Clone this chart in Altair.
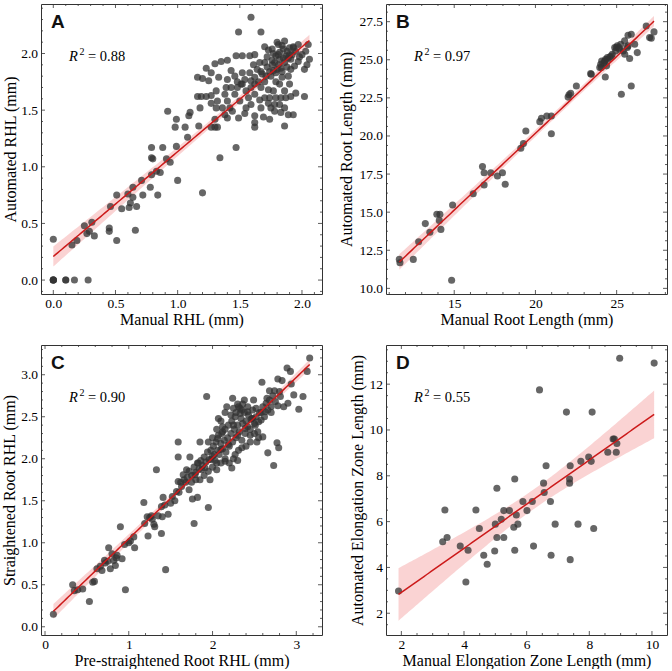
import altair as alt
import numpy as np
import pandas as pd

# ---------------- data ----------------
A_MANUAL = [0.00, 0.00, 0.00, 0.00, 0.00, 0.10, 0.10, 0.17, 0.28, 0.15, 0.19, 0.25, 0.27, 0.31, 0.29,
            0.33, 0.45, 0.45,
            0.46, 0.51, 0.51, 0.55, 0.60, 0.61, 0.62, 0.64, 0.66, 0.67, 0.64, 0.71, 0.72, 0.78, 0.79,
            0.79, 0.79, 0.80, 0.83, 0.84, 0.86, 0.88, 0.91, 0.92, 0.94, 0.99, 0.99, 1.00, 0.98, 1.06,
            1.08, 1.09, 1.10, 1.16, 1.17, 1.16, 1.20, 1.18,
            1.59, 1.49, 1.67, 1.35, 1.30, 1.23, 1.20, 1.27, 1.40, 1.43, 1.47, 1.52, 1.58, 1.62, 1.61,
            1.66, 1.52, 1.58, 1.46, 1.40, 1.33, 1.25, 1.19, 1.23, 1.27, 1.31, 1.32, 1.38, 1.40, 1.42,
            1.44, 1.31, 1.27, 1.36, 1.38, 1.40, 1.32, 1.27, 1.30, 1.48, 1.52, 1.55, 1.57, 1.50, 1.46,
            1.59, 1.62, 1.65, 1.67, 1.70, 1.71, 1.74, 1.77, 1.79, 1.81, 1.78, 1.83, 1.86, 1.84, 1.82,
            1.79, 1.89, 1.91, 1.94, 1.97, 2.02, 2.04, 1.90, 1.86, 1.83, 1.87, 1.91, 1.95, 2.02, 2.06,
            2.05, 1.67, 1.62, 1.66, 1.70, 1.67, 1.73, 1.75, 1.78, 1.83, 1.86, 1.89, 1.93, 1.86, 1.74,
            1.69, 1.62, 1.54, 1.59, 1.55, 1.62, 1.62, 1.49, 1.47, 1.34, 1.30, 1.51, 1.70, 1.73, 1.81,
            1.77, 1.82, 1.85, 1.89, 1.91, 1.72, 1.62, 1.59, 1.54, 1.48, 1.43, 1.39, 1.73, 1.77, 1.79,
            1.74, 1.82, 1.78,
            1.68, 1.72, 1.75, 1.76, 1.80, 1.82, 1.84, 1.87, 1.88, 1.92, 1.95, 1.98, 1.64, 1.70, 1.79,
            1.85, 1.90, 1.76, 1.81, 1.93,
            1.76, 1.80, 1.84, 1.88, 1.93, 1.97, 2.00, 2.03, 1.86, 1.90]
A_AUTO = [0.36, 0.00, 0.00, 0.00, 0.00, 0.00, 0.00, 0.00, 0.00, 0.31, 0.35, 0.48, 0.41, 0.51, 0.43,
          0.39, 0.46, 0.43,
          0.65, 0.35, 0.75, 0.63, 0.76, 0.64, 0.68, 0.73, 0.44, 0.65, 0.82, 0.88, 0.75, 0.82, 0.93,
          1.08, 1.17, 1.07, 0.96, 0.75, 0.95, 1.17, 1.07, 1.49, 1.04, 1.18, 1.42, 0.88, 1.35, 1.35,
          1.26, 1.45, 1.48, 1.79, 1.36, 1.62, 0.77, 1.52,
          2.32, 2.19, 2.19, 1.93, 1.91, 1.87, 1.78, 1.83, 1.94, 1.85, 1.98, 1.98, 1.98, 1.99, 1.90,
          1.92, 1.83, 1.83, 1.80, 1.77, 1.79, 1.76, 1.62, 1.62, 1.63, 1.67, 1.58, 1.64, 1.58, 1.52,
          1.49, 1.52, 1.56, 1.52, 1.46, 1.43, 1.35, 1.35, 1.42, 1.70, 1.73, 1.67, 1.61, 1.58, 1.64,
          1.70, 1.73, 1.75, 1.70, 1.75, 1.80, 1.84, 1.85, 1.83, 1.90, 1.92, 1.87, 1.92, 1.79, 1.73,
          1.75, 1.80, 1.86, 1.89, 1.93, 1.86, 1.90, 1.73, 1.67, 1.61, 1.61, 1.62, 1.65, 1.62, 1.95,
          2.08, 1.84, 1.64, 1.59, 1.61, 1.52, 1.56, 1.52, 1.49, 1.48, 1.52, 1.46, 1.46, 1.36, 1.42,
          1.44, 1.45, 1.47, 1.55, 1.52, 1.35, 1.39, 1.43, 1.17, 1.08, 1.35, 1.73, 2.06, 2.03, 2.08,
          2.00, 2.01, 1.96, 1.96, 1.95, 1.97, 1.79, 1.76, 1.77, 1.75, 1.70, 1.70, 1.68, 1.67, 1.61,
          1.61, 1.55, 1.55,
          1.82, 1.88, 1.80, 1.90, 1.86, 1.95, 1.84, 1.98, 1.88, 1.99, 2.02, 1.97, 1.86, 1.92, 1.98,
          2.04, 2.05, 1.94, 1.99, 2.06,
          2.04, 2.10, 2.07, 2.02, 2.05, 2.08, 1.99, 2.02, 2.11, 1.99]

B_MANUAL = [11.62, 11.66, 12.48, 12.81, 13.22, 13.50, 13.93, 14.08, 14.12, 14.18, 14.90, 14.84,
            16.17, 16.74, 16.84, 16.84, 17.25, 17.66, 17.97, 18.14, 19.10, 19.26, 19.41, 20.27,
            20.37, 20.70, 20.98, 20.98, 22.01, 22.07, 22.17, 22.52, 23.40, 23.44, 23.96, 24.02,
            24.06, 24.08, 24.22, 24.26, 24.30, 24.32, 24.38, 24.43, 24.47, 24.59, 24.67, 24.73,
            24.88, 24.94, 24.98, 25.04, 25.14, 25.18, 25.25, 25.29, 25.41, 25.49, 25.50, 25.66,
            25.70, 25.70, 25.80, 25.90, 25.90, 26.11, 26.27, 26.82, 27.03, 27.13, 27.30]
B_AUTO = [11.90, 11.68, 11.90, 13.06, 14.25, 13.68, 14.86, 14.46, 14.86, 13.87, 15.47, 10.53,
          16.21, 17.99, 17.59, 16.78, 17.59, 17.37, 17.59, 16.83, 19.19, 19.50, 20.33, 20.94,
          21.16, 21.31, 21.31, 20.15, 22.55, 22.70, 22.80, 23.28, 24.09, 24.05, 24.49, 24.71,
          24.49, 24.92, 24.81, 24.92, 23.87, 25.03, 24.60, 25.14, 25.03, 25.19, 25.25, 25.36,
          25.80, 25.58, 25.80, 25.91, 25.80, 25.69, 26.02, 22.74, 25.58, 26.24, 25.36, 25.80,
          26.61, 25.91, 25.08, 26.67, 23.28, 26.02, 25.47, 27.22, 26.46, 26.42, 26.83]

C_PRE = [0.10, 0.33, 0.35, 0.39, 0.45, 0.53, 0.57, 0.59, 0.62, 0.68, 0.71, 0.75, 0.76, 0.80, 0.78,
         0.82, 0.84, 0.86, 0.90, 0.92, 0.96, 1.02, 1.06, 1.07, 1.18, 1.19, 1.22, 1.23, 1.27, 1.28,
         1.31, 1.33, 1.35, 1.39, 1.39, 1.40, 1.41, 1.43, 1.44, 1.47, 1.55, 1.57, 1.59, 1.59, 1.59,
         1.63, 1.65, 1.69, 1.73, 1.72, 1.76, 1.78, 1.79, 1.82, 1.83, 1.85, 1.87, 1.91, 1.93, 1.95,
         1.97, 1.98, 2.02, 2.05, 2.07, 2.06, 2.10, 2.12, 2.15, 2.17, 2.19, 2.23, 2.24, 2.25, 2.27,
         2.30, 2.31, 2.33, 2.35, 2.38, 2.39, 2.42, 2.45, 2.47, 2.49, 2.51, 2.53, 2.55, 2.59, 2.60,
         2.63, 2.66, 2.65, 2.68, 2.70, 2.73, 2.74, 2.77, 2.79, 2.78, 2.81, 2.83, 2.85, 2.89, 2.90,
         2.93, 2.94, 2.97, 3.03, 3.08, 3.13, 3.16,
         1.70, 1.72, 1.75, 1.78, 1.80, 1.82, 1.84, 1.86, 1.88, 1.90, 1.92, 1.94, 1.96, 1.98, 2.00,
         2.01, 2.03, 2.04, 2.06, 2.07, 2.08, 2.10, 2.11, 2.12, 2.14, 2.15, 2.16, 2.18, 2.19, 2.20,
         2.22, 2.23, 2.24, 2.26, 2.27, 2.28, 2.30, 2.31, 2.32, 2.34, 2.35, 2.36, 2.38, 2.39, 2.40,
         2.42, 2.43, 2.45, 2.46, 2.48, 2.50, 2.52, 2.54, 2.56, 2.58, 2.60, 2.62, 2.64, 2.66, 2.68,
         2.70, 2.72, 2.75, 2.78, 2.80,
         2.00, 2.05, 2.10, 2.15, 1.95, 2.25, 2.30, 2.35, 2.20, 2.25, 2.30, 2.40, 2.45, 2.50, 2.55,
         1.85, 1.90, 1.95, 2.00, 2.05, 2.10, 1.80, 1.75, 1.68, 2.15, 2.12, 2.22, 2.28, 2.33, 2.36,
         2.42, 2.48, 2.52, 2.58, 1.50, 1.52, 1.60, 1.62, 1.66, 1.25, 1.30, 1.00, 0.95, 0.85, 0.72,
         0.66]
C_STRAIGHT = [0.15, 0.50, 0.43, 0.44, 0.45, 0.30, 0.53, 0.54, 0.69, 0.67, 0.79, 0.78, 0.94, 0.87, 0.69,
              0.79, 0.73, 0.85, 1.19, 0.81, 0.44, 1.02, 1.07, 0.94, 1.48, 1.23, 1.31, 1.08, 1.32, 1.28,
              1.19, 1.87, 1.32, 1.43, 1.11, 1.31, 1.54, 1.45, 0.68, 1.34, 1.50, 1.61, 2.20, 2.02, 1.73,
              1.67, 1.81, 1.87, 2.02, 1.63, 1.52, 1.23, 1.81, 1.54, 1.95, 2.20, 1.87, 1.89, 2.74, 1.42,
              1.75, 1.99, 2.05, 1.87, 2.48, 2.24, 2.11, 2.32, 1.97, 2.62, 2.17, 1.89, 2.72, 2.40, 2.05,
              2.28, 2.62, 2.54, 2.13, 2.70, 2.36, 2.56, 2.28, 2.48, 2.70, 2.40, 2.20, 2.44, 2.91, 2.26,
              2.56, 2.07, 2.72, 2.81, 2.62, 1.92, 2.81, 2.19, 2.13, 2.95, 2.74, 2.93, 2.62, 3.08, 2.66,
              3.04, 2.89, 2.76, 2.59, 2.74, 3.04, 3.20,
              1.78, 1.85, 1.80, 1.90, 1.84, 1.95, 1.88, 1.98, 1.92, 2.02, 1.96, 2.08, 1.99, 2.10, 2.03,
              2.15, 1.98, 2.20, 2.10, 2.28, 2.05, 2.18, 2.30, 2.12, 2.22, 2.35, 2.08, 2.25, 2.40, 2.15,
              2.30, 2.45, 2.20, 2.35, 2.50, 2.25, 2.40, 2.10, 2.32, 2.48, 2.22, 2.42, 2.55, 2.30, 2.45,
              2.38, 2.52, 2.35, 2.47, 2.58, 2.42, 2.50, 2.32, 2.55, 2.46, 2.62, 2.50, 2.66, 2.58, 2.70,
              2.55, 2.75, 2.68, 2.63, 2.80,
              2.25, 2.35, 2.45, 2.55, 2.20, 2.60, 2.65, 2.58, 1.95, 2.00, 1.98, 2.15, 2.20, 2.30, 2.25,
              1.75, 1.80, 1.85, 1.90, 1.95, 1.95, 1.75, 1.72, 1.72, 2.00, 2.38, 2.52, 2.55, 2.60, 2.65,
              2.62, 2.48, 2.60, 2.55, 1.47, 1.55, 1.60, 1.72, 1.75, 1.30, 1.22, 1.00, 0.98, 0.82, 0.76,
              0.72]

D_MANUAL = [1.91, 3.32, 3.39, 3.46, 3.88, 4.06, 4.13, 4.38, 4.49, 4.63, 4.74, 4.98, 5.00, 5.05,
            5.05, 5.19, 5.27, 5.27, 5.45, 5.59, 5.62, 5.62, 5.67, 5.72, 5.88, 6.01, 6.18, 6.22,
            6.41, 6.54, 6.56, 6.62, 6.76, 6.78, 6.91, 7.27, 7.37, 7.37, 7.39, 7.39, 7.64, 7.73,
            7.98, 8.06, 8.09, 8.14, 8.59, 8.76, 8.80, 8.86, 8.88, 8.97, 10.07]
D_AUTO = [2.97, 5.12, 6.51, 5.31, 4.93, 3.36, 4.75, 6.51, 5.70, 4.53, 4.14, 4.72, 5.89, 7.46,
          5.31, 6.10, 6.48, 5.31, 6.48, 5.75, 7.86, 4.75, 6.29, 5.89, 6.88, 6.48, 6.88, 4.93,
          11.75, 7.68, 7.27, 8.44, 6.88, 4.53, 5.89, 10.78, 7.86, 7.68, 8.44, 4.34, 5.89, 8.63,
          8.82, 8.63, 10.78, 5.70, 9.03, 9.61, 9.61, 9.03, 9.41, 13.13, 12.92]

R2_TEXT = ["0.88", "0.97", "0.90", "0.55"]
LETTERS = ["A", "B", "C", "D"]

W, H = 281, 290
SERIF = "Liberation Serif"
POINT_COLOR = "#333333"
LINE_COLOR = "#cc1a1a"
BAND_COLOR = "#f08080"
LABEL_SIZE = 13.5
TITLE_SIZE = 16


def fit_band(x, y):
    x = np.asarray(x, float)
    y = np.asarray(y, float)
    n = len(x)
    b, a = np.polyfit(x, y, 1)
    resid = y - (a + b * x)
    dof = n - 2
    s = np.sqrt(np.sum(resid ** 2) / dof)
    xbar = x.mean()
    sxx = np.sum((x - xbar) ** 2)
    t = 1.96 + 2.37 / dof
    xs = np.linspace(x.min(), x.max(), 120)
    fit = a + b * xs
    se = s * np.sqrt(1.0 / n + (xs - xbar) ** 2 / sxx)
    return pd.DataFrame({"x": xs, "fit": fit, "lo": fit - t * se, "hi": fit + t * se})


def minor_values(dom, step):
    start = np.ceil(dom[0] / step) * step
    vals = np.arange(start, dom[1] + 1e-9, step)
    return [round(float(v), 6) for v in vals]


def panel(xv, yv, letter, r2, xdom, ydom, xmajor, ymajor, xminor_step, yminor_step,
          xfmt, yfmt, xtitle, ytitle, ytitle_x, xtitle_y):
    df = pd.DataFrame({"x": xv, "y": yv})
    band = fit_band(xv, yv)
    xs = alt.Scale(domain=xdom, nice=False, zero=False)
    ys = alt.Scale(domain=ydom, nice=False, zero=False)

    xaxis = alt.Axis(values=xmajor, format=xfmt, ticks=False, domain=False, grid=False,
                     labelFont=SERIF, labelFontSize=LABEL_SIZE, labelColor="black", labelPadding=2,
                     labelFlush=False, labelOverlap=False,
                     title=xtitle, titleFont=SERIF, titleFontSize=TITLE_SIZE, titleFontWeight="normal",
                     titleColor="black", titleY=xtitle_y, titleBaseline="alphabetic")
    yaxis = alt.Axis(values=ymajor, format=yfmt, ticks=False, domain=False, grid=False,
                     labelFont=SERIF, labelFontSize=LABEL_SIZE, labelColor="black", labelPadding=3.5,
                     labelFlush=False, labelOverlap=False,
                     title=ytitle, titleFont=SERIF, titleFontSize=TITLE_SIZE, titleFontWeight="normal",
                     titleColor="black", titleX=ytitle_x, titleBaseline="alphabetic",
                     titleAngle=270)

    def X(field):
        return alt.X(field, scale=xs, axis=xaxis, title=xtitle)

    def Y(field):
        return alt.Y(field, scale=ys, axis=yaxis, title=ytitle)

    area = alt.Chart(band).mark_area(color=BAND_COLOR, opacity=0.35, clip=True).encode(
        x=X("x:Q"), y=Y("lo:Q"), y2="hi:Q",
    )
    pts = alt.Chart(df).mark_circle(size=50, color=POINT_COLOR, opacity=0.75, clip=True).encode(
        x=X("x:Q"), y=Y("y:Q"),
    )
    line = alt.Chart(band).mark_line(color=LINE_COLOR, strokeWidth=1.5, clip=True).encode(
        x=X("x:Q"), y=Y("fit:Q"),
    )

    layers = [area, pts, line]

    # inward ticks on all four sides
    xmaj = [v for v in xmajor if xdom[0] <= v <= xdom[1]]
    ymaj = [v for v in ymajor if ydom[0] <= v <= ydom[1]]
    xmin = [v for v in minor_values(xdom, xminor_step) if all(abs(v - m) > 1e-6 for m in xmaj)]
    ymin = [v for v in minor_values(ydom, yminor_step) if all(abs(v - m) > 1e-6 for m in ymaj)]
    for vals, ln in ((xmaj, 4), (xmin, 2)):
        tdf = pd.DataFrame({"v": vals})
        for y0, y1 in ((H, H - ln), (0, ln)):
            layers.append(alt.Chart(tdf).mark_rule(color="#333333", strokeWidth=0.8).encode(
                x=X("v:Q"), y=alt.value(y0), y2=alt.value(y1)))
    for vals, ln in ((ymaj, 4), (ymin, 2)):
        tdf = pd.DataFrame({"v": vals})
        for x0, x1 in ((0, ln), (W, W - ln)):
            layers.append(alt.Chart(tdf).mark_rule(color="#333333", strokeWidth=0.8).encode(
                y=Y("v:Q"), x=alt.value(x0), x2=alt.value(x1)))

    one = pd.DataFrame({"k": [0]})
    layers.append(alt.Chart(one).mark_text(text=letter, font="Liberation Sans", fontWeight="bold",
                                            fontSize=19, align="left", baseline="alphabetic",
                                            color="#111111").encode(
        x=alt.value(10), y=alt.value(24)))
    layers.append(alt.Chart(one).mark_text(text="R", font=SERIF, fontStyle="italic", fontSize=14.5,
                                            align="left", baseline="alphabetic", color="black").encode(
        x=alt.value(28), y=alt.value(57)))
    layers.append(alt.Chart(one).mark_text(text="2", font=SERIF, fontSize=10,
                                            align="left", baseline="alphabetic", color="black").encode(
        x=alt.value(38.5), y=alt.value(51)))
    layers.append(alt.Chart(one).mark_text(text="= " + r2, font=SERIF, fontSize=14.5,
                                            align="left", baseline="alphabetic", color="black").encode(
        x=alt.value(47), y=alt.value(57)))

    return alt.layer(*layers).properties(width=W, height=H)


pA = panel(A_MANUAL, A_AUTO, LETTERS[0], R2_TEXT[0], [-0.099, 2.161], [-0.123, 2.437],
           [0, 0.5, 1.0, 1.5, 2.0], [0, 0.5, 1.0, 1.5, 2.0], 0.1, 0.1, ".1f", ".1f",
           "Manual RHL (mm)", "Automated RHL (mm)", -26, 30)
pB = panel(B_MANUAL, B_AUTO, LETTERS[1], R2_TEXT[1], [10.8, 28.1], [9.63, 28.66],
           [15, 20, 25], [10, 12.5, 15, 17.5, 20, 22.5, 25, 27.5], 1.0, 0.625, "d", ".1f",
           "Manual Root Length (mm)", "Automated Root Length (mm)", -35, 30)
pC = panel(C_PRE, C_STRAIGHT, LETTERS[2], R2_TEXT[2], [-0.048, 3.307], [-0.098, 3.354],
           [0, 1, 2, 3], [0, 0.5, 1.0, 1.5, 2.0, 2.5, 3.0], 0.2, 0.1, "d", ".1f",
           "Pre-straightened Root RHL (mm)", "Straightened Root RHL (mm)", -27, 30)
pD = panel(D_MANUAL, D_AUTO, LETTERS[3], R2_TEXT[3], [1.51, 10.48], [1.05, 13.71],
           [2, 4, 6, 8, 10], [2, 4, 6, 8, 10, 12], 0.5, 0.5, "d", "d",
           "Manual Elongation Zone Length (mm)", "Automated Elongation Zone Length (mm)", -24, 30)

chart = alt.concat(pA, pB, pC, pD, columns=2, spacing={"row": 51, "column": 64},
                   bounds="flush").properties(
    padding={"left": 0, "top": 3, "right": 0, "bottom": 0},
    background="white",
).configure_view(stroke="#333333", strokeWidth=1)

chart.save("out.html", embed_options={"renderer": "svg", "actions": False})
